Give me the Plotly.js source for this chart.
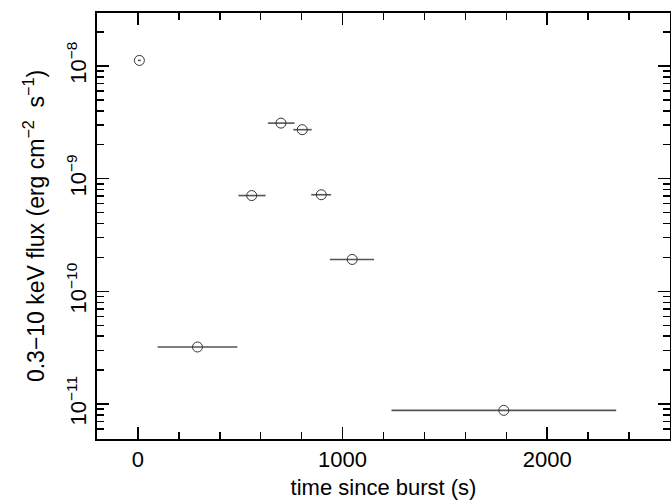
<!DOCTYPE html>
<html>
<head>
<meta charset="utf-8">
<script src="https://cdn.plot.ly/plotly-3.0.1.min.js"></script>
<style>html,body{margin:0;padding:0;background:#fff;}#chart{width:671px;height:500px;}</style>
</head>
<body>
<div id="chart"></div>
<script>
// time since burst (s)
const times = [7, 291, 556, 699, 803, 896, 1047, 1788];
// 0.3-10 keV flux (erg cm^-2 s^-1)
const flux = [1.12e-8, 3.21e-11, 7.08e-10, 3.11e-9, 2.72e-9, 7.2e-10, 1.92e-10, 8.8e-12];
// time bin half-widths
const timeErrMinus = [7, 195, 65, 64, 44, 49, 109, 549];
const timeErrPlus = [7, 195, 68, 66, 46, 48, 107, 549];
// tick labels
const yTickVals = [1e-11, 1e-10, 1e-9, 1e-8];
const yTickText = ['10<sup>−11</sup>', '10<sup>−10</sup>', '10<sup>−9</sup>', '10<sup>−8</sup>'];
const xTickVals = [0, 1000, 2000];
const xTickText = ['0', '1000', '2000'];

const yMinor = [];
for (let e = -12; e <= -8; e++) {
  for (let m = 2; m <= 9; m++) yMinor.push(m * Math.pow(10, e));
}

const font = {family: 'Liberation Sans, Arial, sans-serif', size: 22, color: '#000'};
const yTitleFont = {family: 'Liberation Sans, Arial, sans-serif', size: 23, color: '#000'};

const trace = {
  x: times,
  y: flux,
  type: 'scatter',
  mode: 'markers',
  marker: {symbol: 'circle-open', size: 10, color: '#333', line: {width: 1, color: '#333'}},
  error_x: {
    type: 'data', symmetric: false,
    array: timeErrPlus, arrayminus: timeErrMinus,
    color: '#555', thickness: 1.6, width: 0
  },
  hoverinfo: 'x+y'
};

const layout = {
  width: 671, height: 500,
  margin: {l: 97, r: 1, t: 13, b: 61},
  paper_bgcolor: '#fff', plot_bgcolor: '#fff',
  font: font,
  showlegend: false,
  xaxis: {
    range: [-200, 2600],
    tickmode: 'array', tickvals: xTickVals, ticktext: xTickText,
    ticks: 'inside', ticklen: 12, tickwidth: 1.5, tickcolor: '#000',
    minor: {dtick: 200, ticks: 'inside', ticklen: 7, tickwidth: 1.5, tickcolor: '#000'},
    showline: true, linewidth: 2, linecolor: '#000', mirror: 'allticks',
    showgrid: false, zeroline: false,
    tickfont: font,
    title: {text: 'time since burst (s)', font: font, standoff: 14}
  },
  yaxis: {
    type: 'log',
    range: [Math.log10(4.9e-12), Math.log10(2.95e-8)],
    tickmode: 'array', tickvals: yTickVals, ticktext: yTickText,
    tickangle: -90,
    ticks: 'inside', ticklen: 12, tickwidth: 1.5, tickcolor: '#000',
    minor: {tickmode: 'array', tickvals: yMinor, ticks: 'inside', ticklen: 7, tickwidth: 1.5, tickcolor: '#000'},
    showline: true, linewidth: 2, linecolor: '#000', mirror: 'allticks',
    showgrid: false, zeroline: false,
    tickfont: font,
    title: {text: '0.3−10 keV flux (erg cm<sup>−2</sup>  s<sup>−1</sup>)', font: yTitleFont, standoff: 12}
  }
};

Plotly.newPlot('chart', [trace], layout, {displayModeBar: false, staticPlot: true});
</script>
</body>
</html>
